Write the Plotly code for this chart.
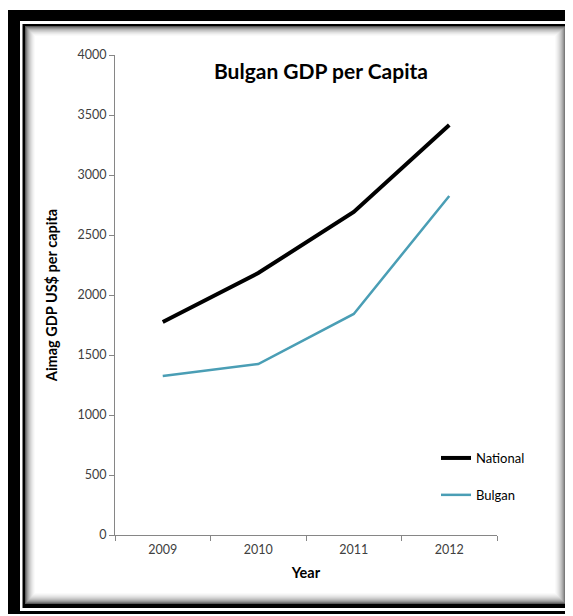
import plotly.graph_objects as go

years = ["2009", "2010", "2011", "2012"]
national = [1775, 2183, 2692, 3417]
bulgan = [1325, 1425, 1842, 2825]
y_ticks = [0, 500, 1000, 1500, 2000, 2500, 3000, 3500, 4000]

OFF = 8  # the page body margin
W, H = 573 - OFF, 616 - OFF
# plot area, in page pixels
PL, PR, PT, PB = 115, 497, 55, 535

def px(x):
    return (x - PL) / (PR - PL)

def py(y):
    return (PB - y) / (PB - PT)

def rect(x0, y0, x1, y1, color):
    return dict(type="rect", xref="paper", yref="paper", layer="below",
                x0=px(x0), x1=px(x1), y0=py(y1), y1=py(y0),
                fillcolor=color, line=dict(width=0))

shapes = [
    rect(8, 10, 640, 614, "#000000"),
    rect(20, 21, 640, 611, "#ffffff"),
    rect(22.5, 24, 570, 608, "#000000"),
]
grad = ["#5a5a5a", "#7a7a7a", "#959595", "#aaaaaa", "#bcbcbc", "#cbcbcb",
        "#d8d8d8", "#e3e3e3", "#ececec", "#f4f4f4", "#fafafa", "#ffffff"]
for i, c in enumerate(grad):
    shapes.append(rect(25 + i * 0.9, 26 + i * 0.9, 566 - i * 1.0, 604 - i * 1.0, c))

FONT = "Lato"
axis_col = "#868686"

fig = go.Figure()
fig.add_trace(go.Scatter(x=years, y=national, mode="lines", name="National",
                         line=dict(color="#000000", width=4), legendgroup="a"))
fig.add_trace(go.Scatter(x=years, y=bulgan, mode="lines", name="Bulgan",
                         line=dict(color="#4A9EB5", width=2.5), legendgroup="b"))

fig.update_layout(
    width=W, height=H,
    margin=dict(l=PL - OFF, r=W - (PR - OFF), t=PT - OFF, b=H - (PB - OFF), pad=0),
    paper_bgcolor="#ffffff", plot_bgcolor="rgba(0,0,0,0)",
    shapes=shapes,
    font=dict(family=FONT, size=12, color="#404040"),
    title=dict(text="<b>Bulgan GDP per Capita</b>", xref="paper", x=px(321),
               xanchor="center", yref="container", y=1 - (72 - OFF) / H, yanchor="middle",
               font=dict(family=FONT, size=21, color="#000000")),
    showlegend=True,
    legend=dict(x=px(436), xanchor="left", y=py(443), yanchor="top",
                tracegroupgap=17, bgcolor="rgba(0,0,0,0)",
                font=dict(family=FONT, size=13, color="#000000")),
    xaxis=dict(type="category", range=[-0.5, 3.5], showgrid=False,
               showline=True, linecolor=axis_col, linewidth=1,
               ticks="outside", tickson="boundaries", ticklen=5, tickcolor=axis_col,
               ticklabelstandoff=3,
               title=dict(text="<b>Year</b>", standoff=11,
                          font=dict(family=FONT, size=14.5, color="#000000")),
               tickfont=dict(family=FONT, size=12.5, color="#404040"),
               zeroline=False, fixedrange=True),
    yaxis=dict(range=[0, 4000], tickvals=y_ticks, showgrid=False,
               showline=True, linecolor=axis_col, linewidth=1,
               ticks="outside", ticklen=5, tickcolor=axis_col,
               title=dict(text="<b>Aimag GDP US$ per capita</b>", standoff=16,
                          font=dict(family=FONT, size=14.5, color="#000000")),
               tickfont=dict(family=FONT, size=12.5, color="#404040"),
               zeroline=False, fixedrange=True),
)

fig.write_html("out.html")
